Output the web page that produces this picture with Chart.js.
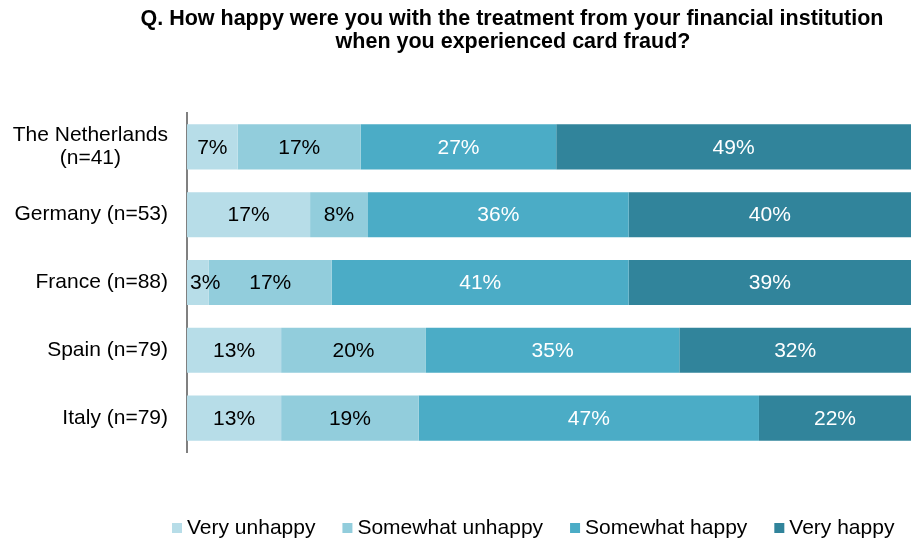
<!DOCTYPE html>
<html>
<head>
<meta charset="utf-8">
<script src="https://cdn.jsdelivr.net/npm/chart.js@4"></script>
<style>
    html, body { margin: 0; padding: 0; background: #fff; }
    #wrap { width: 911px; height: 544px; position: relative; }
</style>
</head>
<body>
<div id="wrap"><canvas id="fraudChart"></canvas></div>
<script>
const countries = [['The Netherlands', '(n=41)'], 'Germany (n=53)', 'France (n=88)', 'Spain (n=79)', 'Italy (n=79)'];
const veryUnhappy = [7, 17, 3, 13, 13];
const somewhatUnhappy = [17, 8, 17, 20, 19];
const somewhatHappy = [27, 36, 41, 35, 47];
const veryHappy = [49, 40, 39, 32, 22];

const titleLines = ['Q. How happy were you with the treatment from your financial institution', 'when you experienced card fraud?'];
const FONT = '"Liberation Sans", Arial, sans-serif';

// title, category labels, value labels and legend are painted here
const decorations = {
    id: 'decorations',
    afterDatasetsDraw(chart) {
        const ctx = chart.ctx;
        const yScale = chart.scales.y;
        ctx.save();

        // title
        ctx.fillStyle = '#000';
        ctx.font = 'bold 21.5px ' + FONT;
        ctx.textAlign = 'center';
        ctx.textBaseline = 'middle';
        ctx.fillText(titleLines[0], 512, 19);
        ctx.fillText(titleLines[1], 513, 42);

        // category labels, right aligned block, lines centered inside it
        ctx.font = '21px ' + FONT;
        chart.data.labels.forEach((label, i) => {
            const lines = Array.isArray(label) ? label : [label];
            const y = yScale.getPixelForValue(i);
            const blockW = Math.max(...lines.map(l => ctx.measureText(l).width));
            const cx = 168 - blockW / 2;
            const lh = 23;
            lines.forEach((l, j) => {
                ctx.fillText(l, cx, y + (j - (lines.length - 1) / 2) * lh);
            });
        });

        // value labels
        chart.data.datasets.forEach((ds, di) => {
            const meta = chart.getDatasetMeta(di);
            ctx.fillStyle = di < 2 ? '#000' : '#fff';
            meta.data.forEach((bar, i) => {
                const text = ds.data[i] + '%';
                const w = ctx.measureText(text).width;
                const left = Math.min(bar.x, bar.base);
                const right = Math.min(Math.max(bar.x, bar.base), chart.chartArea.right);
                let x = (left + right) / 2;
                x = Math.max(x, left + w / 2 + 3);
                ctx.fillText(text, x, bar.y + 1);
            });
        });

        // legend
        ctx.textAlign = 'left';
        let x = 172;
        const ly = 528;
        chart.data.datasets.forEach(ds => {
            ctx.fillStyle = ds.backgroundColor;
            ctx.fillRect(x, ly - 5, 10, 10);
            x += 15;
            ctx.fillStyle = '#000';
            ctx.fillText(ds.label, x, ly);
            x += ctx.measureText(ds.label).width + 27;
        });
        ctx.restore();
    }
};

new Chart(document.getElementById('fraudChart').getContext('2d'), {
    type: 'bar',
    data: {
        labels: countries,
        datasets: [
            { label: 'Very unhappy', data: veryUnhappy, backgroundColor: '#b7dde8' },
            { label: 'Somewhat unhappy', data: somewhatUnhappy, backgroundColor: '#92cddc' },
            { label: 'Somewhat happy', data: somewhatHappy, backgroundColor: '#4bacc6' },
            { label: 'Very happy', data: veryHappy, backgroundColor: '#31849b' }
        ]
    },
    options: {
        indexAxis: 'y',
        responsive: true,
        maintainAspectRatio: false,
        animation: false,
        barPercentage: 1,
        categoryPercentage: 0.665,
        layout: { padding: { top: 113, bottom: 92, left: 0, right: 0 } },
        plugins: {
            legend: { display: false },
            tooltip: { enabled: false }
        },
        scales: {
            x: {
                stacked: true,
                min: 0,
                max: 100,
                display: false
            },
            y: {
                stacked: true,
                grid: { display: false },
                border: { display: true, color: '#808080', width: 2 },
                ticks: { display: false },
                afterFit(scale) { scale.width = 187; }
            }
        }
    },
    plugins: [decorations]
});
</script>
</body>
</html>
